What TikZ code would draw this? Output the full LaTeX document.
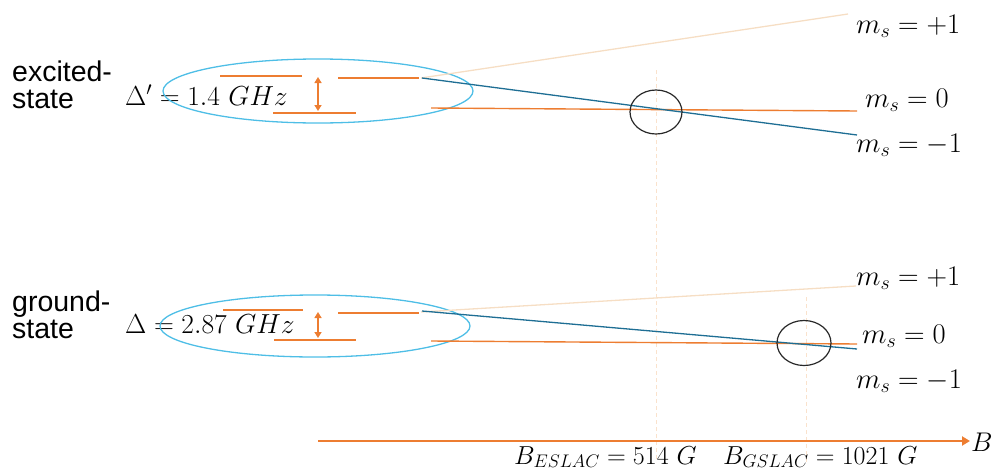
\RequirePackage{fix-cm}
\documentclass[tikz,border=0pt]{standalone}
\usepackage{fontspec}
\newfontfamily\arialf{Liberation Sans}
\usetikzlibrary{arrows.meta,shapes.geometric}
\definecolor{lvorange}{RGB}{237,125,49}
\definecolor{lvbeige}{RGB}{246,222,196}
\definecolor{lvguide}{RGB}{250,226,204}
\definecolor{lvblue}{RGB}{30,110,148}
\definecolor{lvcyan}{RGB}{78,190,230}
\definecolor{lvcircle}{RGB}{40,40,40}
\tikzset{
  level/.style={draw=lvorange, line width=1.4pt},
  upper/.style={draw=lvbeige, line width=1.3pt},
  lower/.style={draw=lvblue, line width=1.3pt},
  guide/.style={draw=lvguide, line width=0.9pt, dash pattern=on 4pt off 3pt},
  region/.style={draw=lvcyan, line width=1.3pt},
  crossing/.style={draw=lvcircle, line width=1.2pt},
  gap/.style={draw=lvorange, line width=1.8pt, {Triangle[width=7pt,length=6pt]}-{Triangle[width=7pt,length=6pt]}},
  axis/.style={draw=lvorange, line width=2pt, -{Triangle[width=9pt,length=8pt]}},
  statetxt/.style={font=\arialf\fontsize{28.5}{27}\selectfont, align=left, inner sep=0pt},
  mathtxt/.style={font=\fontsize{27.5}{30}\selectfont, inner sep=0pt},
  mslab/.style={font=\fontsize{28.5}{30}\selectfont, inner sep=0pt, anchor=base west},
  blab/.style={font=\fontsize{26}{30}\selectfont, inner sep=0pt, anchor=base west}
}
\begin{document}
\begin{tikzpicture}[x=1pt,y=-1pt]
\useasboundingbox (0,0) rectangle (994,474);

% guides
\coordinate (ge1) at (656,70);
\coordinate (ge2) at (656,462);
\coordinate (gg1) at (806,297);
\coordinate (gg2) at (806,462);
\draw[guide] (ge1) -- (ge2);
\draw[guide] (gg1) -- (gg2);

% ===== excited state =====
\node[statetxt, anchor=north west] (exc) at (12,61) {excited-\\state};
\node[mathtxt, anchor=base west] (dexc) at (125,105) {$\Delta' = 1.4\ GHz$};
\node[region, draw, ellipse, minimum width=310pt, minimum height=64pt, inner sep=0pt] (eell) at (318,91) {};

\coordinate (ea1) at (220,76);  \coordinate (ea2) at (302,76);
\coordinate (eb1) at (273,113); \coordinate (eb2) at (356,113);
\coordinate (ec1) at (338,78);  \coordinate (ec2) at (419,78);
\coordinate (ed1) at (431,108); \coordinate (ed2) at (857,111);
\coordinate (eu1) at (421,78);  \coordinate (eu2) at (848,14);
\coordinate (el1) at (422,78);  \coordinate (el2) at (857,135);
\coordinate (eg1) at (318,77);  \coordinate (eg2) at (318,111);

\draw[upper] (eu1) -- (eu2);
\draw[level] (ea1) -- (ea2);
\draw[level] (eb1) -- (eb2);
\draw[level] (ec1) -- (ec2);
\draw[level] (ed1) -- (ed2);
\draw[lower] (el1) -- (el2);
\draw[gap] (eg1) -- (eg2);
\node[crossing, draw, ellipse, minimum width=52pt, minimum height=44pt, inner sep=0pt] (ecirc) at (656,112) {};

\node[mslab] (ep) at (856,33) {$m_s = +1$};
\node[mslab] (e0) at (865,107) {$m_s = 0$};
\node[mslab] (em) at (856,152) {$m_s = -1$};

% ===== ground state =====
\node[statetxt, anchor=north west] (gnd) at (12,291) {ground-\\state};
\node[mathtxt, anchor=base west] (dgnd) at (125,333) {$\Delta = 2.87\ GHz$};
\node[region, draw, ellipse, minimum width=310pt, minimum height=62pt, inner sep=0pt] (gell) at (315,326) {};

\coordinate (ga1) at (223,310); \coordinate (ga2) at (303,310);
\coordinate (gb1) at (274,340); \coordinate (gb2) at (356,340);
\coordinate (gc1) at (338,313); \coordinate (gc2) at (419,313);
\coordinate (gd1) at (431,341); \coordinate (gd2) at (857,344);
\coordinate (gu1) at (421,312); \coordinate (gu2) at (856,286);
\coordinate (gl1) at (422,311); \coordinate (gl2) at (857,349);
\coordinate (gk1) at (318,312); \coordinate (gk2) at (318,338);

\draw[upper] (gu1) -- (gu2);
\draw[level] (ga1) -- (ga2);
\draw[level] (gb1) -- (gb2);
\draw[level] (gc1) -- (gc2);
\draw[level] (gd1) -- (gd2);
\draw[lower] (gl1) -- (gl2);
\draw[gap] (gk1) -- (gk2);
\node[crossing, draw, ellipse, minimum width=54pt, minimum height=45pt, inner sep=0pt] (gcirc) at (804,343) {};

\node[mslab] (gp) at (856,285) {$m_s = +1$};
\node[mslab] (g0) at (862,343) {$m_s = 0$};
\node[mslab] (gm) at (856,388) {$m_s = -1$};

% ===== axis =====
\coordinate (ax1) at (318,441);
\coordinate (ax2) at (970,441);
\draw[axis] (ax1) -- (ax2);
\node[font=\fontsize{27}{30}\selectfont, inner sep=0pt, anchor=base west] (bl) at (971,451) {$B$};
\node[blab] (besl) at (514,464) {$B_{ESLAC} = 514\ G$};
\node[blab] (bgsl) at (723,464) {$B_{GSLAC} = 1021\ G$};
\end{tikzpicture}
\end{document}
